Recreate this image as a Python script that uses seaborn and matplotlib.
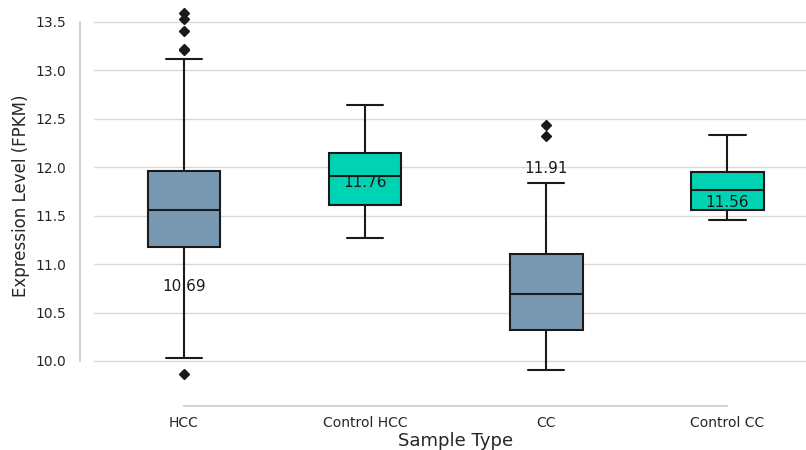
import matplotlib
matplotlib.use("Agg")
import matplotlib.pyplot as plt
import numpy as np
import pandas as pd
import seaborn as sns

# Data
sample_order = ["HCC", "Control HCC", "CC", "Control CC"]

hcc = [9.87, 10.03, 10.40, 10.70, 10.95, 11.10, 11.18, 11.27, 11.34, 11.41,
       11.47, 11.52, 11.56, 11.62, 11.68, 11.75, 11.82, 11.90, 11.96, 13.12,
       13.21, 13.22, 13.41, 13.53, 13.59]
control_hcc = [11.27, 11.61, 11.91, 12.15, 12.64]
cc = [9.91, 10.05, 10.20, 10.32, 10.45, 10.58, 10.69, 10.82, 10.96, 11.10,
      11.84, 12.32, 12.44]
control_cc = [11.45, 11.56, 11.76, 11.95, 12.33]

palette = ["#7898b2", "#00d2b4", "#7898b2", "#00d2b4"]

df = pd.DataFrame({
    "Sample Type": (["HCC"] * len(hcc) + ["Control HCC"] * len(control_hcc)
                    + ["CC"] * len(cc) + ["Control CC"] * len(control_cc)),
    "Expression": hcc + control_hcc + cc + control_cc,
})

sns.set_theme(style="whitegrid")
plt.rcParams["font.family"] = ["DejaVu Sans"]

fig = plt.figure(figsize=(8.06, 4.5), dpi=100)
# axes runs a little past the right edge, like the cropped original
ax = fig.add_axes([93.5 / 806, 58 / 450, 724.5 / 806, 392 / 450])

sns.boxplot(
    data=df,
    x="Sample Type",
    y="Expression",
    hue="Sample Type",
    order=sample_order,
    hue_order=sample_order,
    palette=palette,
    saturation=1,
    width=0.4,
    linewidth=1.5,
    linecolor="#1a1a1a",
    flierprops={"marker": "D", "markersize": 5, "markerfacecolor": "#1a1a1a",
                "markeredgecolor": "#1a1a1a"},
    legend=False,
    ax=ax,
)

# median labels (grouped alphabetically, placed in plot order)
medians = df.groupby("Sample Type")["Expression"].median().values
for i, m in enumerate(medians):
    ax.text(i, m, f"{m:.2f}", ha="center", va="bottom", fontsize=11,
            color="#1a1a1a")

ax.set_ylim(9.68, 13.725)
ax.set_yticks(np.arange(10.0, 13.51, 0.5))
ax.set_xlabel("Sample Type", fontsize=13, color="#262626", labelpad=1)
ax.set_ylabel("Expression Level (FPKM)", fontsize=12, color="#262626")
ax.tick_params(axis="both", labelsize=10, colors="#262626")
ax.tick_params(axis="x", pad=1.5)
ax.grid(axis="y", color="#d9d9d9", linewidth=1)

sns.despine(ax=ax, offset=10, trim=True)
for spine in ax.spines.values():
    spine.set_color("#cccccc")

fig.savefig("out.png", dpi=100)
